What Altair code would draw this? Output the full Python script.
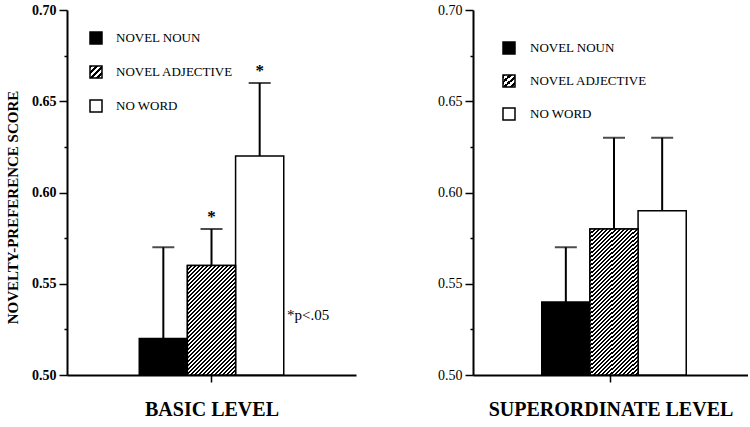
import altair as alt
import pandas as pd

# ---------------- data ----------------
conditions = ["NOVEL NOUN", "NOVEL ADJECTIVE", "NO WORD"]
levels = ["BASIC LEVEL", "SUPERORDINATE LEVEL"]
basic_means = [0.52, 0.56, 0.62]
basic_upper = [0.57, 0.58, 0.66]
basic_sig = ["", "*", "*"]
super_means = [0.54, 0.58, 0.59]
super_upper = [0.57, 0.63, 0.63]
super_sig = ["", "", ""]
y_ticks = [0.50, 0.525, 0.55, 0.575, 0.60, 0.625, 0.65, 0.675, 0.70]
y_title = "NOVELTY-PREFERENCE SCORE"
note_text = ["*p<.05"]
note_value = [0.533]

# ---------------- style ----------------
SERIF = "Liberation Serif"
YMIN, YMAX = 0.50, 0.70
PAD_OUTER = 0.5
H = 365


def hatch(w, h, period=4.0, ink=0.5):
    """Diagonal '/' hatch as a hard-stop linear gradient (bbox units)."""
    k = (w + h) / (w * w + h * h)
    total = w + h
    stops = []
    pos = 0.0
    while pos < total:
        a = pos / total
        b = min((pos + period * ink) / total, 1.0)
        c = min((pos + period) / total, 1.0)
        stops += [
            alt.GradientStop(offset=a, color="black"),
            alt.GradientStop(offset=b, color="black"),
            alt.GradientStop(offset=b, color="white"),
            alt.GradientStop(offset=c, color="white"),
        ]
        pos += period
    return alt.LinearGradient(gradient="linear", stops=stops,
                              x1=0, y1=0, x2=k * w, y2=k * h)


def panel(level, means, upper, sig, W, label_weight, title, legend, note):
    df = pd.DataFrame({"level": level, "cond": conditions,
                       "mean": means, "upper": upper, "sig": sig})
    base = alt.Chart(df)

    xenc = alt.X("level:N",
                 scale=alt.Scale(paddingOuter=PAD_OUTER, paddingInner=0),
                 axis=alt.Axis(labels=False, title=level, grid=False,
                               domainColor="black", domainWidth=2,
                               tickColor="black", tickWidth=1.5, tickSize=7,
                               titleFont=SERIF, titleFontSize=20,
                               titleFontWeight="bold", titleColor="black",
                               titlePadding=17))
    xoff = alt.XOffset("cond:N", sort=conditions,
                       scale=alt.Scale(domain=conditions, paddingInner=0,
                                       paddingOuter=0))
    axis_kw = dict(values=y_ticks, grid=False,
                   labelExpr="round(datum.value*1000) % 50 == 0 ? format(datum.value, '.2f') : ''",
                   tickSize={"condition": {"test": "round(datum.value*1000) % 50 != 0",
                                           "value": 3}, "value": 8},
                   tickWidth=1.5, tickColor="black",
                   domainColor="black", domainWidth=2,
                   labelFont=SERIF, labelFontSize=14,
                   labelFontWeight=label_weight, labelColor="black",
                   labelPadding=3)
    if title:
        axis_kw.update(title=title, titleFont=SERIF, titleFontSize=15,
                       titleFontWeight="bold", titleColor="black",
                       titleX=-47, titleY=197)
    else:
        axis_kw.update(title=None)
    yaxis = alt.Axis(**axis_kw)
    yscale = alt.Scale(domain=[YMIN, YMAX], nice=False, zero=False)

    def Y(field):
        return alt.Y(field, scale=yscale, axis=yaxis)

    bars = base.mark_bar(stroke="black", strokeWidth=1.5).encode(
        x=xenc, xOffset=xoff, y=Y("mean:Q"), y2=alt.datum(YMIN),
        fill=alt.Fill("cond:N", scale=alt.Scale(domain=conditions,
                                                range=["black", "white", "white"]),
                      legend=None))

    bw = W / (1 + 2 * PAD_OUTER) / 3.0
    bh = (means[1] - YMIN) / (YMAX - YMIN) * H
    hatched = base.transform_filter(alt.datum.cond == conditions[1]).mark_bar(
        stroke="black", strokeWidth=1.5, fill=hatch(bw, bh)).encode(
        x=xenc, xOffset=xoff, y=Y("mean:Q"), y2=alt.datum(YMIN))

    err = base.mark_rule(color="black", strokeWidth=2).encode(
        x=xenc, xOffset=xoff, y=Y("mean:Q"), y2="upper:Q")
    caps = base.mark_tick(orient="horizontal", size=22, thickness=2,
                          color="black").encode(
        x=xenc, xOffset=xoff, y=Y("upper:Q"))
    stars = base.mark_text(fontSize=17, fontWeight="bold", font=SERIF,
                           baseline="alphabetic", dy=-7, color="black").encode(
        x=xenc, xOffset=xoff, y=Y("upper:Q"), text="sig:N")

    layers = [bars, hatched, err, caps, stars]

    lx, tx, ly0, dly = legend
    fills = ["black", hatch(12, 12, period=6), "white"]
    for i, c in enumerate(conditions):
        ldf = pd.DataFrame({"label": [c]})
        layers.append(alt.Chart(ldf).mark_square(
            size=144, fill=fills[i], stroke="black", strokeWidth=1.5,
            opacity=1, filled=True).encode(
            x=alt.value(lx), y=alt.value(ly0 + i * dly)))
        layers.append(alt.Chart(ldf).mark_text(
            align="left", baseline="middle", font=SERIF, fontSize=13,
            color="black").encode(
            x=alt.value(tx), y=alt.value(ly0 + i * dly), text="label:N"))

    if note:
        ndf = pd.DataFrame({"t": note_text, "v": note_value})
        layers.append(alt.Chart(ndf).mark_text(
            align="left", baseline="middle", font=SERIF, fontSize=15,
            color="black").encode(
            x=alt.value(note), y=Y("v:Q"), text="t:N"))

    return alt.layer(*layers).properties(width=W, height=H)


left = panel(levels[0], basic_means, basic_upper, basic_sig, 289, "bold",
             y_title, (29, 49, 28, 34), 220)
right = panel(levels[1], super_means, super_upper, super_sig, 275, "normal",
              None, (36, 57, 38, 33), None)

chart = alt.hconcat(left, right, spacing=81).properties(
    padding={"left": 5, "top": 3, "right": 0, "bottom": 0},
    background="white",
).configure_view(stroke=None)

chart.save("out.html", embed_options={"renderer": "svg", "actions": False})
